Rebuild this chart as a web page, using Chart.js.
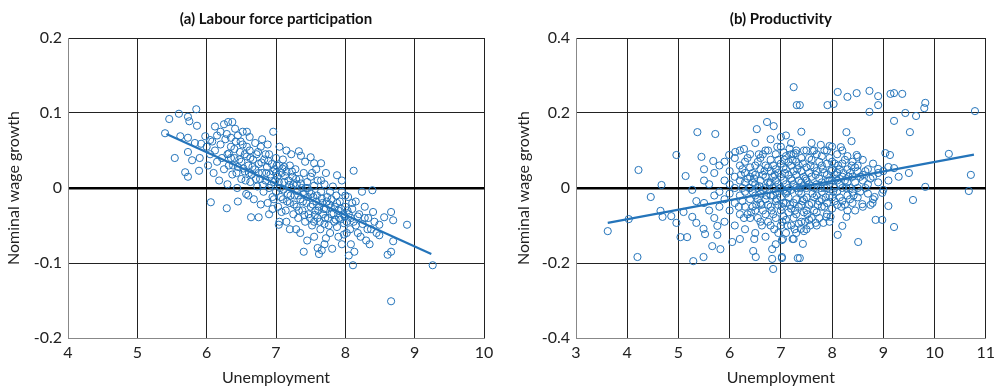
<!DOCTYPE html>
<html>
<head>
<meta charset="utf-8">
<script src="https://cdn.jsdelivr.net/npm/chart.js"></script>
<style>
  body { margin: 0; background: #fff; }
  #wrap { position: relative; width: 1000px; height: 387px; }
  .panel { position: absolute; top: 0; height: 387px; }
  #panelA { left: 0; width: 510px; }
  #panelB { left: 510px; width: 490px; }
</style>
</head>
<body>
<div id="wrap">
  <div class="panel" id="panelA"><canvas id="chartA"></canvas></div>
  <div class="panel" id="panelB"><canvas id="chartB"></canvas></div>
</div>
<script>
// panel titles and axis text
const titleA = '(a) Labour force participation';
const titleB = '(b) Productivity';
const xAxisTitle = 'Unemployment';
const yAxisTitle = 'Nominal wage growth';

// tick values + labels
const xTicksA = [4, 5, 6, 7, 8, 9, 10];
const yTicksA = [-0.2, -0.1, 0, 0.1, 0.2];
const yLabelsA = ['-0.2', '-0.1', '0', '0.1', '0.2'];
const xTicksB = [3, 4, 5, 6, 7, 8, 9, 10, 11];
const yTicksB = [-0.4, -0.2, 0, 0.2, 0.4];
const yLabelsB = ['-0.4', '-0.2', '0', '0.2', '0.4'];

// fitted lines (endpoints)
const fitA = [[5.42, 0.072], [9.24, -0.088]];
const fitB = [[3.62, -0.093], [10.77, 0.089]];

// (a) unemployment vs wage growth
const pointsA = [
  [5.40,0.073],[5.46,0.092],[5.60,0.099],[5.73,0.095],[5.85,0.105],[5.75,0.089],[5.86,0.083],[5.62,0.069],
  [5.73,0.067],[5.54,0.040],[5.73,0.048],[5.79,0.037],[5.83,0.060],[5.92,0.059],[5.90,0.040],[5.69,0.021],
  [5.73,0.015],[5.89,0.023],[5.98,0.069],[6.06,-0.019],[6.29,-0.027],[6.64,-0.039],[6.75,-0.039],[6.31,0.088],
  [6.37,0.088],[6.41,0.079],[6.29,0.072],[6.35,0.067],[6.52,0.075],[6.58,0.075],[6.80,0.065],[6.96,0.075],
  [7.33,0.049],[7.36,0.043],[7.50,0.041],[7.55,0.033],[7.65,0.033],[8.12,0.023],[7.88,0.017],[7.04,-0.049],
  [7.29,-0.055],[8.24,-0.005],[8.39,-0.003],[8.56,-0.039],[8.66,-0.032],[8.69,-0.043],[8.49,-0.049],[8.49,-0.063],
  [8.69,-0.071],[8.89,-0.049],[8.66,-0.085],[8.61,-0.089],[8.11,-0.103],[9.26,-0.103],[8.66,-0.151],[7.81,-0.081],
  [7.72,-0.067],
  [6.00,0.055],[6.02,0.030],[6.05,0.045],[6.08,0.062],[6.10,0.020],[6.12,0.050],[6.15,0.035],[6.18,0.010],
  [6.20,0.058],[6.22,0.040],[6.25,0.025],[6.27,0.065],[6.30,0.045],[6.30,0.005],[6.32,0.030],[6.35,0.055],
  [6.37,0.018],[6.40,0.040],[6.42,0.062],[6.44,0.000],[6.45,0.028],[6.48,0.048],[6.50,0.012],[6.50,0.035],
  [6.52,0.058],[6.55,0.022],[6.57,-0.008],[6.58,0.042],[6.60,0.030],[6.62,0.050],[6.63,0.008],[6.65,0.018],
  [6.67,0.038],[6.68,-0.015],[6.70,0.025],[6.72,0.045],[6.73,0.002],[6.75,0.032],[6.77,0.012],[6.78,0.055],
  [6.80,0.020],[6.82,-0.005],[6.83,0.038],[6.85,0.010],[6.87,0.028],[6.88,-0.020],[6.90,0.045],[6.90,0.000],
  [6.92,0.018],[6.94,0.032],[6.95,-0.012],[6.97,0.008],[6.98,0.025],[7.00,0.040],[7.00,-0.005],[7.02,0.015],
  [7.03,-0.025],[7.05,0.030],[7.06,0.000],[7.08,0.020],[7.10,-0.015],[7.10,0.038],[7.12,0.008],[7.14,-0.030],
  [7.15,0.022],[7.17,-0.008],[7.18,0.010],[7.20,0.030],[7.20,-0.020],[7.22,0.000],[7.24,0.015],[7.25,-0.035],
  [7.27,-0.010],[7.28,0.025],[7.30,0.005],[7.30,-0.025],[7.32,-0.040],[7.34,0.012],[7.35,-0.015],[7.37,0.000],
  [7.38,-0.030],[7.40,0.020],[7.40,-0.008],[7.42,-0.045],[7.44,-0.020],[7.45,0.008],[7.47,-0.035],[7.48,-0.005],
  [7.50,0.015],[7.50,-0.025],[7.52,-0.050],[7.54,-0.012],[7.55,0.003],[7.57,-0.030],[7.58,-0.018],[7.60,0.010],
  [7.60,-0.040],[7.62,-0.025],[7.64,-0.055],[7.65,-0.005],[7.67,-0.020],[7.68,-0.035],[7.70,0.005],[7.70,-0.048],
  [7.72,-0.028],[7.74,-0.012],[7.75,-0.040],[7.77,-0.022],[7.78,-0.060],[7.80,-0.015],[7.80,-0.035],[7.82,0.002],
  [7.84,-0.045],[7.85,-0.025],[7.87,-0.010],[7.88,-0.052],[7.90,-0.030],[7.92,-0.018],[7.93,-0.042],[7.95,-0.005],
  [7.97,-0.035],[7.98,-0.062],[8.00,-0.025],[8.02,-0.045],[8.04,-0.012],[8.05,-0.035],[8.07,-0.055],[8.10,-0.028],
  [8.12,-0.045],[8.15,-0.018],[8.18,-0.060],[8.20,-0.035],[8.25,-0.048],[8.28,-0.025],[8.30,-0.070],[8.33,-0.040],
  [8.37,-0.055],[8.40,-0.032],
  [8.02,-0.060],[8.08,-0.075],[8.15,-0.050],[8.22,-0.065],[8.28,-0.040],[8.32,-0.055],[8.35,-0.075],[8.42,-0.045],
  [8.45,-0.060],[8.13,-0.085],[8.05,-0.090],[7.95,-0.075],[7.90,-0.065],[8.18,-0.038],[8.00,-0.010],[8.10,-0.020],
  [7.98,-0.047],
  [6.90,-0.035],[7.05,-0.045],[7.20,-0.055],[7.35,-0.060],[7.45,-0.070],[7.55,-0.065],[7.60,-0.080],[7.70,-0.075],
  [7.40,-0.085],[7.62,-0.088],[7.66,-0.083],[7.15,-0.045],[6.95,-0.028],[6.78,-0.022],[6.60,-0.010],[6.45,-0.018],
  [6.15,0.070],[6.20,0.075],[6.05,0.064],[6.12,0.082],[6.25,0.085],[6.45,0.070],[6.62,0.068],[6.70,0.060],
  [6.88,0.058],[7.05,0.055],[7.15,0.050],[7.22,0.045],[7.42,0.035],[7.58,0.025],[7.72,0.020],[7.95,0.010],
  [6.35,0.040],[6.55,0.045],[6.75,0.020],[6.85,0.045],[7.00,0.020],[7.12,0.028],[7.25,0.005],[7.45,0.000],
  [7.52,0.020],[7.65,0.010],[7.78,-0.005],[7.88,-0.020],[6.97,-0.015],[7.08,-0.032],[7.32,-0.010],[7.55,-0.045],
  [6.40,0.052],[6.47,0.038],[6.53,0.026],[6.58,0.055],[6.63,0.040],[6.66,0.028],[6.71,0.012],[6.74,0.048],
  [6.79,0.034],[6.81,0.004],[6.86,0.020],[6.89,0.036],[6.93,0.004],[6.96,0.022],[6.99,0.010],[7.01,0.030],
  [7.04,0.008],[7.07,-0.012],[7.09,0.026],[7.11,-0.002],[7.13,0.016],[7.16,-0.018],[7.19,0.004],[7.21,-0.010],
  [7.23,0.022],[7.26,-0.022],[7.29,0.012],[7.31,-0.004],[7.33,-0.030],[7.36,0.006],[7.39,-0.018],[7.41,-0.036],
  [7.43,0.000],[7.46,-0.012],[7.49,-0.040],[7.51,-0.008],[7.53,-0.022],[7.56,-0.036],[7.59,-0.010],[7.61,-0.030],
  [7.63,-0.045],[7.66,-0.014],[7.69,-0.028],[7.71,-0.040],[7.73,-0.018],[7.76,-0.050],[7.79,-0.026],[7.83,-0.034],
  [7.86,-0.042],[7.91,-0.040],[7.94,-0.028],[7.99,-0.038],[8.03,-0.030],[8.08,-0.040],[6.32,0.046],[6.38,0.030],
  [6.43,0.020],[6.49,0.062],[6.56,0.010],[6.61,0.020]
];

// (b) unemployment vs wage growth
const pointsB = [
  [4.22,0.048],[4.46,-0.024],[4.67,0.008],[4.96,0.088],[5.37,0.149],[5.72,0.144],[5.14,0.032],[5.45,0.083],
  [5.68,0.072],[5.99,0.088],[6.11,0.096],[6.28,0.104],[6.53,0.157],[6.73,0.176],[6.86,0.165],[7.00,0.136],
  [7.25,0.269],[7.31,0.221],[7.37,0.221],[7.91,0.221],[8.03,0.224],[8.11,0.256],[8.30,0.243],[8.48,0.253],
  [8.73,0.259],[8.90,0.245],[9.14,0.251],[9.21,0.253],[9.37,0.251],[8.90,0.221],[8.73,0.203],[9.82,0.227],
  [9.80,0.213],[9.43,0.200],[9.64,0.192],[9.21,0.179],[9.52,0.149],[8.28,0.149],[8.38,0.125],[10.79,0.205],
  [10.28,0.091],[10.71,0.035],[9.82,0.003],[9.04,0.093],[9.13,0.088],[8.48,0.088],[8.50,0.083],[7.78,0.115],
  [7.95,0.112],[8.17,0.109],[7.62,0.099],[7.29,0.093],[9.10,0.056],[9.21,0.053],[8.90,0.051],
  [10.67,-0.008],[9.58,-0.032],[9.10,-0.048],[9.21,-0.104],[8.85,-0.085],[8.98,-0.085],[8.51,-0.144],[8.11,-0.125],
  [8.20,-0.101],[8.28,-0.077],[8.59,-0.043],[8.79,-0.040],[8.83,-0.024],[8.98,-0.013],[7.02,-0.187],[7.37,-0.187],
  [7.43,-0.149],[7.23,-0.136],[7.04,-0.136],[7.39,-0.109],[7.45,-0.115],[7.68,-0.093],[7.83,-0.093],[7.89,-0.077],
  [7.97,-0.077],
  [3.62,-0.115],[4.03,-0.083],[4.20,-0.184],[4.65,-0.061],[4.69,-0.077],[4.86,-0.075],[4.96,-0.093],[5.04,-0.131],
  [5.17,-0.131],[5.10,-0.064],[5.27,-0.077],[5.35,-0.093],[5.29,-0.195],[5.49,-0.184],[5.66,-0.155],[5.82,-0.163],
  [5.76,-0.125],[5.76,-0.101],[5.49,-0.109],[5.52,-0.123],[6.05,-0.144],[6.20,-0.136],[6.46,-0.168],[6.51,-0.184],
  [6.48,-0.136],[6.83,-0.163],[6.83,-0.189],[6.85,-0.216],[7.02,-0.184],[7.02,-0.139],[7.25,-0.136],[7.33,-0.187],
  [5.27,-0.005],[5.35,-0.035],
  [5.50,0.020],[5.50,-0.040],[5.50,0.050],[5.60,-0.060],[5.60,0.010],[5.70,0.040],[5.70,-0.020],[5.70,-0.080],
  [5.80,0.060],[5.80,-0.010],[5.80,-0.050],[5.90,0.020],[5.90,-0.090],[5.90,0.070],[5.90,-0.030],
  [6.00,0.045],[6.00,-0.015],[6.00,-0.060],[6.00,0.010],[6.10,0.080],[6.10,0.030],[6.10,-0.040],[6.10,-0.100],
  [6.10,0.000],[6.20,0.060],[6.20,-0.020],[6.20,-0.070],[6.20,0.020],[6.20,0.100],[6.30,0.040],[6.30,-0.050],
  [6.30,-0.010],[6.30,0.070],[6.30,-0.110],[6.30,0.015],[6.40,0.090],[6.40,0.030],[6.40,-0.030],[6.40,-0.080],
  [6.40,0.000],[6.40,0.055],[6.50,0.120],[6.50,0.060],[6.50,-0.060],[6.50,0.010],[6.50,-0.020],[6.50,-0.120],
  [6.50,0.035],[6.60,0.050],[6.60,-0.040],[6.60,-0.090],[6.60,0.020],[6.60,0.080],[6.60,-0.015],[6.70,0.100],
  [6.70,0.030],[6.70,-0.030],[6.70,-0.070],[6.70,0.000],[6.70,0.060],[6.70,-0.130],[6.80,0.130],[6.80,0.045],
  [6.80,-0.050],[6.80,-0.100],[6.80,0.015],[6.80,-0.020],[6.80,0.075],[6.90,0.090],[6.90,0.020],[6.90,-0.035],
  [6.90,-0.080],[6.90,0.050],[6.90,-0.010],[6.90,-0.150],[7.00,0.110],[7.00,0.030],[7.00,-0.060],[7.00,0.000],
  [7.00,-0.100],[7.00,0.065],[7.00,-0.025],[7.10,0.140],[7.10,0.050],[7.10,-0.040],[7.10,0.010],[7.10,-0.085],
  [7.10,0.085],[7.10,-0.015],[7.10,-0.120],[7.20,0.090],[7.20,0.025],[7.20,-0.055],[7.20,-0.005],[7.20,0.060],
  [7.20,-0.100],[7.20,0.120],[7.30,0.070],[7.30,0.000],[7.30,-0.070],[7.30,0.035],[7.30,-0.030],[7.30,-0.120],
  [7.30,0.100],[7.40,0.150],[7.40,0.045],[7.40,-0.045],[7.40,0.015],[7.40,-0.090],[7.40,0.080],[7.40,-0.015],
  [7.50,0.100],[7.50,0.020],[7.50,-0.060],[7.50,0.055],[7.50,-0.025],[7.50,-0.110],[7.50,0.000],[7.60,0.075],
  [7.60,0.030],[7.60,-0.040],[7.60,0.005],[7.60,-0.080],[7.60,0.120],[7.70,0.090],[7.70,0.045],[7.70,-0.020],
  [7.70,-0.065],[7.70,0.010],[7.70,-0.100],[7.80,0.060],[7.80,0.015],[7.80,-0.050],[7.80,0.085],[7.80,-0.010],
  [7.80,-0.030],[7.90,0.100],[7.90,0.035],[7.90,-0.040],[7.90,0.000],[7.90,-0.070],[7.90,0.065],[8.00,0.070],
  [8.00,0.020],[8.00,-0.025],[8.00,0.050],[8.00,-0.055],[8.00,0.110],[8.10,0.040],[8.10,-0.010],[8.10,0.090],
  [8.10,-0.045],[8.10,0.020],[8.20,0.065],[8.20,0.000],[8.20,-0.035],[8.20,0.030],[8.20,0.100],[8.30,0.050],
  [8.30,-0.020],[8.30,0.085],[8.30,0.015],[8.30,-0.060],[8.40,0.030],[8.40,-0.010],[8.40,0.070],[8.40,-0.040],
  [8.50,0.045],[8.50,0.000],[8.50,-0.025],[8.50,0.060],[8.60,0.020],[8.60,-0.050],[8.60,0.075],[8.60,0.035],
  [8.70,0.050],[8.70,-0.015],[8.70,0.010],[8.80,0.030],[8.80,0.065],[8.80,-0.030],[8.90,0.015],[8.90,0.040],
  [9.00,0.045],[9.00,-0.005],[9.10,0.020],[9.30,0.030],[9.50,0.040],
  [6.25,0.000],[6.25,-0.035],[6.25,0.050],[6.35,0.025],[6.35,-0.070],[6.35,0.080],[6.45,-0.010],[6.45,0.040],
  [6.45,-0.050],[6.45,0.015],[6.55,0.070],[6.55,-0.030],[6.55,0.000],[6.55,-0.080],[6.65,0.035],[6.65,-0.060],
  [6.65,0.090],[6.65,-0.005],[6.75,0.015],[6.75,-0.045],[6.75,0.055],[6.75,-0.090],[6.75,0.100],[6.85,0.030],
  [6.85,-0.020],[6.85,-0.070],[6.85,0.060],[6.85,0.000],[6.95,0.075],[6.95,0.010],[6.95,-0.045],[6.95,-0.120],
  [6.95,0.040],[7.05,0.055],[7.05,-0.005],[7.05,-0.040],[7.05,-0.075],[7.05,0.020],[7.05,0.095],[7.15,0.035],
  [7.15,-0.025],[7.15,-0.065],[7.15,0.070],[7.15,0.000],[7.25,0.045],[7.25,0.010],[7.25,-0.040],[7.25,-0.080],
  [7.25,0.090],[7.35,0.020],[7.35,-0.050],[7.35,0.060],[7.35,-0.010],[7.35,-0.095],[7.45,0.100],[7.45,0.030],
  [7.45,-0.030],[7.45,-0.065],[7.45,0.005],[7.55,0.080],[7.55,0.040],[7.55,-0.045],[7.55,0.010],[7.55,-0.085],
  [7.65,0.055],[7.65,0.000],[7.65,-0.025],[7.65,-0.060],[7.65,0.100],[7.75,0.070],[7.75,0.025],[7.75,-0.035],
  [7.75,-0.080],[7.85,0.040],[7.85,0.000],[7.85,-0.050],[7.85,0.100],[7.95,0.020],[7.95,-0.020],[7.95,0.080],
  [7.95,-0.090],[8.05,0.035],[8.05,-0.035],[8.05,0.000],[8.05,0.065],[8.15,0.050],[8.15,0.010],[8.15,-0.025],
  [8.25,0.020],[8.25,-0.045],[8.25,0.075],[8.35,0.040],[8.35,0.000],[8.35,-0.030],[8.45,0.015],[8.45,0.055],
  [8.45,-0.060],[8.55,0.030],[8.55,-0.010],[8.65,0.045],[8.65,0.000],[8.75,0.025],[8.75,-0.045],
  [6.58,0.005],[6.62,-0.045],[6.68,0.045],[6.72,-0.020],[6.78,0.010],[6.82,-0.060],[6.88,0.035],[6.92,-0.030],
  [6.98,0.000],[7.02,-0.050],[7.08,0.040],[7.12,-0.010],[7.18,-0.045],[7.22,0.020],[7.28,-0.060],[7.32,0.050],
  [7.38,0.000],[7.42,-0.035],[7.48,0.025],[7.52,-0.070],[7.58,0.060],[7.62,-0.015],[7.68,0.035],[7.72,-0.045],
  [7.78,0.000],[7.82,0.050],[7.88,-0.025],[7.92,0.020],[7.98,0.045],[8.02,-0.010],[8.08,0.025],[8.12,0.060],
  [8.18,-0.050],[8.22,0.040],[8.28,0.000],[8.32,0.030],[8.38,0.060],[8.42,-0.020],[6.48,0.025],[6.52,-0.045],
  [6.42,-0.065],[6.38,0.000],[6.28,-0.080],[6.22,0.035],[6.18,-0.050],[7.03,-0.090],[7.13,-0.100],[7.27,-0.110],
  [7.47,-0.090],[7.57,-0.100],[6.87,-0.110],[6.63,-0.100],[7.07,0.075],[7.23,0.075],[7.43,0.065],[6.93,0.110],
  [7.17,0.105],[6.57,0.090]
];

const blue = '#2474ba';
const axisFont = { family: 'Lato, "Open Sans", sans-serif', size: 16 };

// draws the bold panel title centred over the plot area
const panelTitle = {
  id: 'panelTitle',
  afterDraw(chart, args, opts) {
    const { ctx, chartArea } = chart;
    ctx.save();
    ctx.font = 'bold 15px Lato, "Open Sans", sans-serif';
    ctx.fillStyle = '#111';
    ctx.textAlign = 'center';
    ctx.textBaseline = 'middle';
    ctx.fillText(opts.text, (chartArea.left + chartArea.right) / 2, 19);
    ctx.restore();
  }
};

function toXY(list) {
  return list.map(p => ({ x: p[0], y: p[1] }));
}

function makePanel(canvasId, title, points, fit, xTicks, yTicks, yLabels, yWidth, rightPad) {
  const canvas = document.getElementById(canvasId);
  return new Chart(canvas.getContext('2d'), {
    type: 'scatter',
    data: {
      datasets: [
        {
          data: toXY(fit),
          showLine: true,
          borderColor: blue,
          borderWidth: 2.2,
          pointRadius: 0
        },
        {
          data: toXY(points),
          pointRadius: 3.6,
          pointBorderWidth: 1,
          pointBorderColor: blue,
          pointBackgroundColor: 'rgba(0,0,0,0)'
        }
      ]
    },
    options: {
      responsive: true,
      maintainAspectRatio: false,
      animation: false,
      layout: { padding: { top: 38, right: rightPad, bottom: 0, left: 0 } },
      plugins: {
        legend: { display: false },
        tooltip: { enabled: false },
        panelTitle: { text: title }
      },
      scales: {
        x: {
          type: 'linear',
          min: xTicks[0],
          max: xTicks[xTicks.length - 1],
          afterBuildTicks: axis => { axis.ticks = xTicks.map(v => ({ value: v })); },
          afterFit: s => { s.height = 49; },
          ticks: { font: axisFont, color: '#222', padding: 5, maxRotation: 0, callback: v => String(v) },
          grid: { color: '#222', lineWidth: 1, drawTicks: false },
          border: { color: '#888', width: 1 },
          title: { display: true, text: xAxisTitle, font: axisFont, color: '#222', padding: { top: 1, bottom: 0 } }
        },
        y: {
          type: 'linear',
          min: yTicks[0],
          max: yTicks[yTicks.length - 1],
          afterBuildTicks: axis => { axis.ticks = yTicks.map(v => ({ value: v })); },
          afterFit: s => { s.width = yWidth; },
          ticks: { font: axisFont, color: '#222', padding: 6, callback: (v, i) => yLabels[i] },
          grid: {
            color: c => (c.tick && c.tick.value === 0 ? '#000' : '#222'),
            lineWidth: c => (c.tick && c.tick.value === 0 ? 2.5 : 1),
            drawTicks: false
          },
          border: { color: '#888', width: 1 },
          title: { display: true, text: yAxisTitle, font: axisFont, color: '#222', padding: { top: 4, bottom: 4 } }
        }
      }
    },
    plugins: [panelTitle]
  });
}

makePanel('chartA', titleA, pointsA, fitA, xTicksA, yTicksA, yLabelsA, 68, 26);
makePanel('chartB', titleB, pointsB, fitB, xTicksB, yTicksB, yLabelsB, 66, 12);
</script>
</body>
</html>
